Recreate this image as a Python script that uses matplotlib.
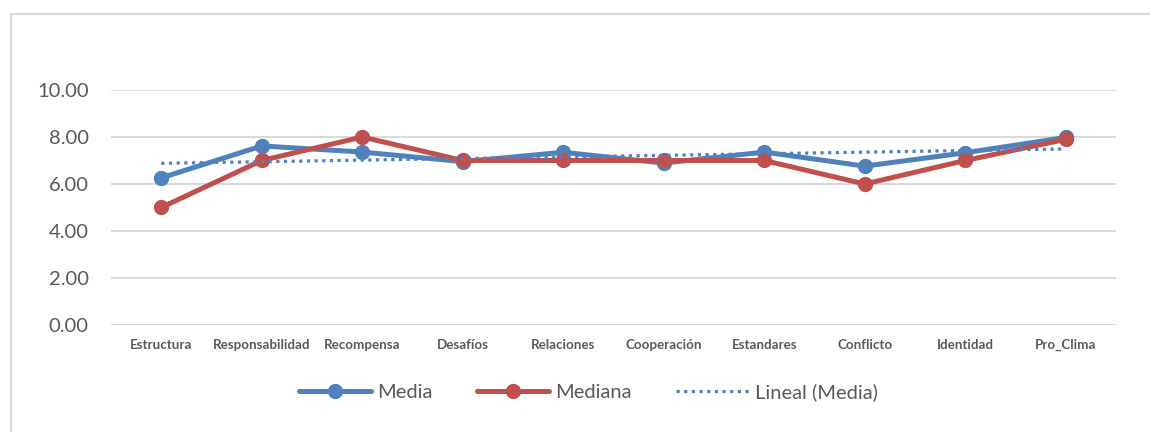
import matplotlib
matplotlib.use("Agg")
import matplotlib.pyplot as plt
from matplotlib.lines import Line2D
from matplotlib.ticker import FormatStrFormatter
import numpy as np

categories = ["Estructura", "Responsabilidad", "Recompensa", "Desafíos", "Relaciones",
              "Cooperación", "Estandares", "Conflicto", "Identidad", "Pro_Clima"]
media = [6.26, 7.62, 7.36, 6.95, 7.35, 6.89, 7.36, 6.76, 7.33, 7.98]
mediana = [5.0, 7.0, 8.0, 7.0, 7.0, 7.0, 7.0, 6.0, 7.0, 7.9]

BLUE = "#4F81BD"
RED = "#C0504D"
GRID = "#D9D9D9"
TEXT = "#595959"

plt.rcParams["font.family"] = ["Lato", "DejaVu Sans"]

fig = plt.figure(figsize=(11.5, 4.32), dpi=100)
ax = fig.add_axes([111 / 1150, 1 - 325 / 432, (1116 - 111) / 1150, (325 - 90) / 432])

x = np.arange(1, len(categories) + 1)

# linear trend of the mean series
slope, intercept = np.polyfit(x, media, 1)
trend = slope * x + intercept

ax.plot(x, media, color=BLUE, lw=3.6, marker="o", ms=10, solid_capstyle="round",
        label="Media", zorder=3)
ax.plot(x, mediana, color=RED, lw=3.6, marker="o", ms=10, solid_capstyle="round",
        label="Mediana", zorder=4)
ax.plot(x, trend, color=BLUE, lw=2.3, linestyle=(0, (1, 1.4)),
        label="Lineal (Media)", zorder=5)

ax.set_xlim(0.5, len(categories) + 0.5)
ax.set_ylim(0, 10)
ax.set_yticks(np.arange(0, 10.01, 2))
ax.yaxis.set_major_formatter(FormatStrFormatter("%.2f"))
ax.set_xticks(x)
ax.set_xticklabels(categories, fontsize=9.6, fontweight="bold", color=TEXT)
ax.tick_params(axis="y", length=0, pad=16, labelsize=14.5, labelcolor=TEXT)
ax.tick_params(axis="x", length=0, pad=10)

ax.grid(axis="y", color=GRID, lw=1.4)
ax.set_axisbelow(True)
for s in ax.spines.values():
    s.set_visible(False)

leg = fig.legend(loc="center", bbox_to_anchor=(588 / 1150, 1 - 392 / 432), ncol=3,
                 frameon=False, fontsize=14.5, handlelength=3.6, columnspacing=2.2,
                 handletextpad=0.3)
for t in leg.get_texts():
    t.set_color(TEXT)

# chart area outline
fig.add_artist(Line2D([11 / 1150, 11 / 1150], [0, 1 - 14 / 432], color="#D9D9D9", lw=1.5,
                      transform=fig.transFigure))
fig.add_artist(Line2D([11 / 1150, 1], [1 - 14 / 432, 1 - 14 / 432], color="#D9D9D9", lw=1.5,
                      transform=fig.transFigure))

fig.savefig("out.png", dpi=100)
